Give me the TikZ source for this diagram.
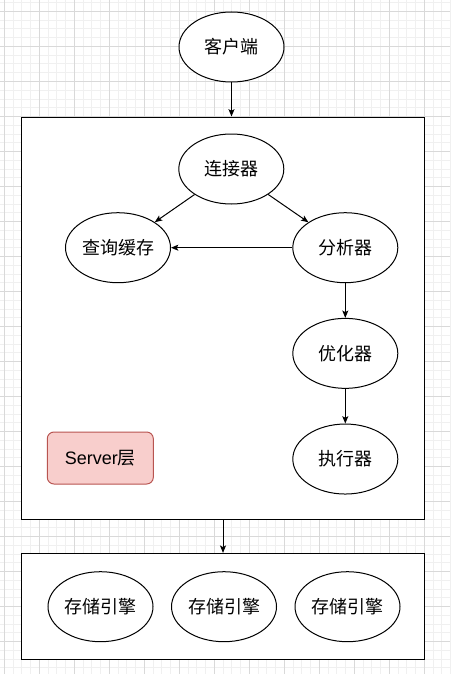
\documentclass[tikz,border=0pt]{standalone}
\usepackage{fontspec}
\setmainfont{Liberation Sans}
\newfontfamily\cjk{Noto Sans CJK SC}
\usetikzlibrary{positioning,shapes.geometric,arrows.meta}

\definecolor{tagline}{RGB}{184,84,80}
\definecolor{tagfill}{RGB}{248,206,204}

\begin{document}
\begin{tikzpicture}[x=0.75pt, y=-0.75pt,
                    roundnode/.style={ellipse, draw=black, fill=white, line width=0.75pt, minimum width=78.75pt, minimum height=52.5pt, inner sep=0pt, font=\cjk\fontsize{13.5}{16}\selectfont},
                    layerbox/.style={rectangle, draw=black, fill=white, line width=0.75pt, inner sep=0pt, minimum width=302pt},
                    tagnode/.style={rectangle, rounded corners=5pt, draw=tagline, fill=tagfill, line width=0.75pt, minimum width=79.5pt, minimum height=39pt, font=\fontsize{13.5}{16}\selectfont},
                    arr/.style={-{Stealth[length=5.5pt, width=4.5pt, inset=1.2pt]}, line width=0.75pt},]
    % grid
    \useasboundingbox (0,0) rectangle (450,674);
    \fill[white] (0,0) rectangle (450,674);
    \foreach \k in {0,...,51} \draw[black!6, line width=0.75pt] (4.3+8.75*\k,0) -- (4.3+8.75*\k,674);
    \foreach \k in {0,...,76} \draw[black!6, line width=0.75pt] (0,2.75+8.75*\k) -- (450,2.75+8.75*\k);
    \foreach \k in {0,...,12} \draw[black!15, line width=0.75pt] (4.3+35*\k,0) -- (4.3+35*\k,674);
    \foreach \k in {0,...,18} \draw[black!15, line width=0.75pt] (0,11.5+35*\k) -- (450,11.5+35*\k);
    % boxes
    \node[layerbox, minimum height=301.5pt]     (server)  at (223,318)     {};
    \node[layerbox, minimum height=79.3pt]      (storage) at (223,606.2)   {};
    % nodes
    \node[roundnode]      (client)     at (231.5,47)                        {客户端};
    \node[roundnode]      (connector)  at (231.3,169)                       {连接器};
    \node[roundnode]      (cache)      at (118,247.7)                       {查询缓存};
    \node[roundnode]      (parser)     at (345.3,247.7)                     {分析器};
    \node[roundnode]      (optimizer)  [below=26pt of parser]               {优化器};
    \node[roundnode]      (executor)   [below=26pt of optimizer]            {执行器};
    \node[tagnode]        (tag)        at (100.3,458)                       {Server{\cjk 层}};
    \node[roundnode]      (engineA)    at (100.5,606.7)                     {存储引擎};
    \node[roundnode]      (engineB)    [right=13.125pt of engineA]          {存储引擎};
    \node[roundnode]      (engineC)    [right=13.125pt of engineB]          {存储引擎};
    % lines
    \draw[arr] (client) -- (client |- server.north);
    \draw[arr] (connector) -- (cache);
    \draw[arr] (connector) -- (parser);
    \draw[arr] (parser) -- (cache);
    \draw[arr] (parser) -- (optimizer);
    \draw[arr] (optimizer) -- (executor);
    \draw[arr] (server.south) -- (storage.north);
\end{tikzpicture}
\end{document}
